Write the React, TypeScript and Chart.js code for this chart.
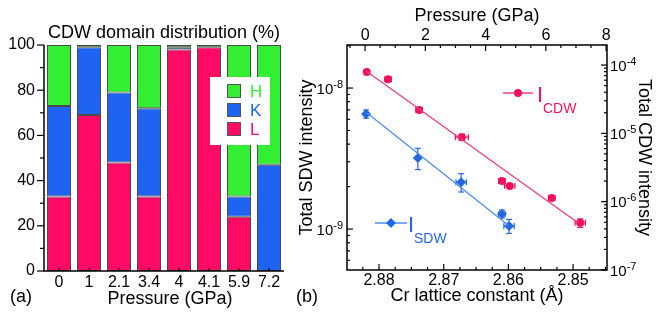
import React, { useEffect, useRef } from 'react';
import { Chart, registerables } from 'chart.js';
Chart.register(...registerables);

const FONT = "'Liberation Sans', Arial, Helvetica, sans-serif";

// ---------- panel (a): CDW domain distribution ----------
const PRESSURE_LABELS = ['0', '1', '2.1', '3.4', '4', '4.1', '5.9', '7.2'];
const L_DOMAIN = [33, 69, 48, 33, 98, 99, 24, 0];
const K_DOMAIN = [40, 30, 31, 39, 1, 0, 9, 47];
const H_DOMAIN = [27, 1, 21, 28, 1, 1, 67, 53];
const PCT_TICKS = [0, 20, 40, 60, 80, 100];

// ---------- panel (b): intensities vs lattice constant ----------
const CDW_LATTICE = [2.8819, 2.8786, 2.8738, 2.8672, 2.8610, 2.8598, 2.8533, 2.8489];
const CDW_INT = [7.9e-5, 6.2e-5, 2.2e-5, 8.8e-6, 2.0e-6, 1.7e-6, 1.13e-6, 4.9e-7];
const CDW_XERR = [0, 0.0005, 0.0005, 0.001, 0.0005, 0.0008, 0.0005, 0.0008];
const CDW_YERR = [0, 0, 0, 0.9e-6, 0, 0, 0, 0.7e-7];

const SDW_LATTICE = [2.8820, 2.8740, 2.8673, 2.8610, 2.8599];
const SDW_INT = [6.55e-9, 3.19e-9, 2.15e-9, 1.28e-9, 1.05e-9];
const SDW_XERR = [0, 0, 0.0008, 0.0005, 0.0008];
const SDW_YERR = [0.44e-9, 0.55e-9, 0.32e-9, 0.085e-9, 0.12e-9];

const CDW_FIT_X = [2.8820, 2.8492];
const CDW_FIT_Y = [8.17e-5, 4.88e-7];
const SDW_FIT_X = [2.88185, 2.86006];
const SDW_FIT_Y = [6.65e-9, 1.067e-9];

const LATTICE_TICKS = [2.88, 2.87, 2.86, 2.85];
const PRESSURE_TICKS = [0, 2, 4, 6, 8];
const SDW_TICKS = [1e-9, 1e-8];
const CDW_TICKS = [1e-7, 1e-6, 1e-5, 1e-4];

const PINK_BAR = '#FF0A64';
const BLUE_BAR = '#1F63F2';
const GREEN_BAR = '#33EE33';
const PINK = '#F0105E';
const PINK_LINE = '#F03C78';
const BLUE = '#2468E0';
const BLUE_LINE = '#4A8EF0';

const expOf = (v: number) => String(Math.round(Math.log10(v)));

function seg(ctx: CanvasRenderingContext2D, x1: number, y1: number, x2: number, y2: number) {
  ctx.beginPath();
  ctx.moveTo(x1, y1);
  ctx.lineTo(x2, y2);
  ctx.stroke();
}

const leftDeco = {
  id: 'leftDeco',
  afterDatasetsDraw(chart: any) {
    const { ctx, chartArea: a, scales } = chart;
    const x = scales.x;
    const y = scales.y;
    ctx.save();
    ctx.strokeStyle = '#000';
    ctx.lineWidth = 1.5;
    ctx.beginPath();
    ctx.moveTo(a.left, a.top);
    ctx.lineTo(a.left, a.bottom);
    ctx.lineTo(a.right, a.bottom);
    ctx.stroke();
    ctx.lineWidth = 1.2;
    for (let v = 0; v <= 100; v += 10) {
      const py = y.getPixelForValue(v);
      seg(ctx, a.left - (v % 20 === 0 ? 7 : 4), py, a.left, py);
    }
    PRESSURE_LABELS.forEach((_, i) => {
      const px = x.getPixelForValue(i);
      seg(ctx, px, a.bottom, px, a.bottom - 3);
    });
    // legend
    ctx.fillStyle = '#fff';
    ctx.fillRect(210, 77, 60, 68);
    const items = [
      { t: 'H', c: GREEN_BAR },
      { t: 'K', c: BLUE_BAR },
      { t: 'L', c: PINK_BAR },
    ];
    ctx.font = `17px ${FONT}`;
    ctx.textBaseline = 'middle';
    ctx.textAlign = 'left';
    items.forEach((it, i) => {
      const top = 84 + i * 19;
      ctx.fillStyle = it.c;
      ctx.fillRect(227, top, 14, 14);
      ctx.strokeStyle = '#555';
      ctx.lineWidth = 1;
      ctx.strokeRect(227.5, top + 0.5, 13, 13);
      ctx.fillStyle = it.c;
      ctx.fillText(it.t, 250, top + 8);
    });
    // texts
    ctx.fillStyle = '#000';
    ctx.font = `18px ${FONT}`;
    ctx.textAlign = 'center';
    ctx.fillText('CDW domain distribution (%)', (a.left + a.right) / 2, 33);
    ctx.fillText('Pressure (GPa)', 170, 299);
    ctx.textAlign = 'left';
    ctx.fillText('(a)', 10, 297);
    ctx.restore();
  },
};

function drawPowLabel(ctx: CanvasRenderingContext2D, v: number, xEdge: number, py: number, alignRight: boolean) {
  const e = '-' + expOf(v).replace('-', '');
  ctx.font = `15px ${FONT}`;
  const wBase = ctx.measureText('10').width;
  ctx.font = `11px ${FONT}`;
  const wExp = ctx.measureText(e).width;
  const x0 = alignRight ? xEdge - wBase - wExp : xEdge;
  ctx.textAlign = 'left';
  ctx.textBaseline = 'alphabetic';
  ctx.font = `15px ${FONT}`;
  ctx.fillText('10', x0, py + 5.5);
  ctx.font = `11px ${FONT}`;
  ctx.fillText(e, x0 + wBase, py - 0.5);
}

const rightDeco = {
  id: 'rightDeco',
  beforeDatasetsDraw(chart: any) {
    const { ctx, scales } = chart;
    const x = scales.x;
    const draw = (lat: number[], val: number[], xe: number[], ye: number[], ys: any, color: string) => {
      ctx.save();
      ctx.strokeStyle = color;
      ctx.lineWidth = 1.2;
      lat.forEach((lx, i) => {
        const px = x.getPixelForValue(lx);
        const py = ys.getPixelForValue(val[i]);
        if (ye[i] > 0) {
          const p1 = ys.getPixelForValue(val[i] - ye[i]);
          const p2 = ys.getPixelForValue(val[i] + ye[i]);
          seg(ctx, px, p1, px, p2);
          seg(ctx, px - 3, p1, px + 3, p1);
          seg(ctx, px - 3, p2, px + 3, p2);
        }
        if (xe[i] > 0) {
          const q1 = x.getPixelForValue(lx - xe[i]);
          const q2 = x.getPixelForValue(lx + xe[i]);
          seg(ctx, q1, py, q2, py);
          seg(ctx, q1, py - 3, q1, py + 3);
          seg(ctx, q2, py - 3, q2, py + 3);
        }
      });
      ctx.restore();
    };
    draw(CDW_LATTICE, CDW_INT, CDW_XERR, CDW_YERR, scales.yr, PINK);
    draw(SDW_LATTICE, SDW_INT, SDW_XERR, SDW_YERR, scales.y, BLUE);
  },
  afterDatasetsDraw(chart: any) {
    const { ctx, chartArea: a, scales } = chart;
    const { x, xp, y, yr } = scales;
    ctx.save();
    ctx.strokeStyle = '#000';
    ctx.lineWidth = 1.5;
    ctx.strokeRect(a.left, a.top, a.right - a.left, a.bottom - a.top);
    ctx.lineWidth = 1.2;
    // bottom lattice ticks
    for (let i = 0; i <= 16; i++) {
      const v = 2.845 + i * 0.0025;
      if (v < x.min || v > x.max) continue;
      const px = x.getPixelForValue(v);
      const major = Math.abs(v * 100 - Math.round(v * 100)) < 1e-6;
      seg(ctx, px, a.bottom, px, a.bottom - (major ? 6 : 3));
    }
    // top pressure ticks
    for (let i = -1; i <= 16; i++) {
      const v = i * 0.5;
      if (v < xp.min || v > xp.max) continue;
      const px = xp.getPixelForValue(v);
      seg(ctx, px, a.top, px, a.top + (i % 4 === 0 ? 6 : 3));
    }
    // log ticks
    const logTicks = (sc: any, d0: number, d1: number, edge: number, dir: number) => {
      for (let d = d0; d <= d1; d++) {
        for (let m = 1; m <= 9; m++) {
          const v = m * Math.pow(10, d);
          if (v < sc.min * 0.999 || v > sc.max * 1.001) continue;
          const py = sc.getPixelForValue(v);
          seg(ctx, edge, py, edge + dir * (m === 1 ? 6 : 3), py);
        }
      }
    };
    logTicks(y, -10, -8, a.left, 1);
    logTicks(yr, -7, -4, a.right, -1);
    // log tick labels (10 with superscript exponent)
    ctx.fillStyle = '#000';
    SDW_TICKS.forEach((v) => drawPowLabel(ctx, v, a.left - 4, y.getPixelForValue(v), true));
    CDW_TICKS.forEach((v) => drawPowLabel(ctx, v, a.right + 3, yr.getPixelForValue(v), false));
    // legend
    const leg = (x1: number, x2: number, yy: number, color: string, lineColor: string, style: string, r: number, tx: number, sub: string) => {
      ctx.strokeStyle = lineColor;
      ctx.lineWidth = 1.5;
      seg(ctx, x1, yy, x2, yy);
      ctx.fillStyle = color;
      const cx = (x1 + x2) / 2;
      ctx.beginPath();
      if (style === 'circle') {
        ctx.arc(cx, yy, r, 0, Math.PI * 2);
      } else {
        ctx.moveTo(cx, yy - r);
        ctx.lineTo(cx + r, yy);
        ctx.lineTo(cx, yy + r);
        ctx.lineTo(cx - r, yy);
        ctx.closePath();
      }
      ctx.fill();
      ctx.textAlign = 'left';
      ctx.textBaseline = 'alphabetic';
      ctx.font = `22px ${FONT}`;
      ctx.fillText('I', tx, yy + 9);
      ctx.font = `14px ${FONT}`;
      ctx.fillText(sub, tx + 6, yy + 20);
    };
    leg(213, 243, 93, PINK, PINK_LINE, 'circle', 4, 247, 'CDW');
    leg(85, 117, 223, BLUE, BLUE_LINE, 'diamond', 5, 118, 'SDW');
    ctx.fillStyle = '#000';
    ctx.font = `18px ${FONT}`;
    ctx.textAlign = 'left';
    ctx.textBaseline = 'middle';
    ctx.fillText('(b)', 6, 297);
    ctx.restore();
  },
};

const noGrid = { display: false, drawTicks: false };

function leftConfig(): any {
  return {
    type: 'bar',
    data: {
      labels: PRESSURE_LABELS,
      datasets: [
        { label: 'L', data: L_DOMAIN, backgroundColor: PINK_BAR },
        { label: 'K', data: K_DOMAIN, backgroundColor: BLUE_BAR },
        { label: 'H', data: H_DOMAIN, backgroundColor: GREEN_BAR },
      ],
    },
    options: {
      animation: false,
      responsive: false,
      devicePixelRatio: 1,
      layout: { padding: { top: 45, right: 16, left: 0, bottom: 0 } },
      plugins: { legend: { display: false }, title: { display: false }, tooltip: { enabled: false } },
      datasets: {
        bar: {
          barPercentage: 0.8,
          categoryPercentage: 1,
          borderWidth: 1,
          borderColor: '#4a4a4a',
          borderSkipped: false,
        },
      },
      scales: {
        x: {
          stacked: true,
          grid: noGrid,
          border: { display: false },
          ticks: { font: { size: 16, family: FONT }, color: '#000', padding: 2, maxRotation: 0, autoSkip: false },
          afterFit: (s: any) => { s.height = 47; },
        },
        y: {
          stacked: true,
          min: 0,
          max: 100,
          grid: noGrid,
          border: { display: false },
          ticks: { font: { size: 16, family: FONT }, color: '#000', padding: 9 },
          afterBuildTicks: (s: any) => { s.ticks = PCT_TICKS.map((v) => ({ value: v })); },
          afterFit: (s: any) => { s.width = 44; },
        },
      },
    },
    plugins: [leftDeco],
  };
}

function rightConfig(): any {
  const pts = (xs: number[], ys: number[]) => xs.map((v, i) => ({ x: v, y: ys[i] }));
  const titleFont = { size: 18, family: FONT };
  const tickFont = { size: 16, family: FONT };
  return {
    type: 'scatter',
    data: {
      datasets: [
        {
          label: 'CDW fit', data: pts(CDW_FIT_X, CDW_FIT_Y), xAxisID: 'x', yAxisID: 'yr',
          showLine: true, pointRadius: 0, borderColor: PINK_LINE, borderWidth: 1.3,
        },
        {
          label: 'SDW fit', data: pts(SDW_FIT_X, SDW_FIT_Y), xAxisID: 'x', yAxisID: 'y',
          showLine: true, pointRadius: 0, borderColor: BLUE_LINE, borderWidth: 1.3,
        },
        {
          label: 'I_CDW', data: pts(CDW_LATTICE, CDW_INT), xAxisID: 'x', yAxisID: 'yr',
          pointStyle: 'circle', pointRadius: 4, backgroundColor: PINK, borderColor: PINK, borderWidth: 0,
        },
        {
          label: 'I_SDW', data: pts(SDW_LATTICE, SDW_INT), xAxisID: 'x', yAxisID: 'y',
          pointStyle: 'rectRot', pointRadius: 5, backgroundColor: BLUE, borderColor: BLUE, borderWidth: 0,
        },
      ],
    },
    options: {
      animation: false,
      responsive: false,
      devicePixelRatio: 1,
      layout: { padding: 0 },
      plugins: { legend: { display: false }, title: { display: false }, tooltip: { enabled: false } },
      scales: {
        x: {
          type: 'linear', position: 'bottom', reverse: true, min: 2.84476, max: 2.88495,
          grid: noGrid, border: { display: false },
          ticks: { font: tickFont, color: '#000', padding: 1, callback: (v: number) => v.toFixed(2) },
          afterBuildTicks: (s: any) => { s.ticks = LATTICE_TICKS.map((v) => ({ value: v })); },
          title: { display: true, text: 'Cr lattice constant (Å)', font: titleFont, color: '#000', padding: { top: 0, bottom: 11 } },
          afterFit: (s: any) => { s.height = 48; },
        },
        xp: {
          type: 'linear', position: 'top', min: -0.6, max: 8.03,
          grid: noGrid, border: { display: false },
          ticks: { font: tickFont, color: '#000', padding: 0 },
          afterBuildTicks: (s: any) => { s.ticks = PRESSURE_TICKS.map((v) => ({ value: v })); },
          title: { display: true, text: 'Pressure (GPa)', font: titleFont, color: '#000', padding: { top: 5, bottom: 0 } },
          afterFit: (s: any) => { s.height = 45; },
        },
        y: {
          type: 'logarithmic', position: 'left', min: 5.12e-10, max: 2.02e-8,
          grid: noGrid, border: { display: false },
          ticks: { display: false },
          afterBuildTicks: (s: any) => { s.ticks = SDW_TICKS.map((v) => ({ value: v })); },
          title: { display: true, text: 'Total SDW intensity', font: titleFont, color: '#000', padding: { top: 6, bottom: 0 } },
          afterFit: (s: any) => { s.width = 57; },
        },
        yr: {
          type: 'logarithmic', position: 'right', min: 1e-7, max: 1.963e-4,
          grid: noGrid, border: { display: false },
          ticks: { display: false },
          afterBuildTicks: (s: any) => { s.ticks = CDW_TICKS.map((v) => ({ value: v })); },
          title: { display: true, text: 'Total CDW intensity', font: titleFont, color: '#000', padding: { top: 3, bottom: 0 } },
          afterFit: (s: any) => { s.width = 51; },
        },
      },
    },
    plugins: [rightDeco],
  };
}

export default function App() {
  const leftRef = useRef<HTMLCanvasElement>(null);
  const rightRef = useRef<HTMLCanvasElement>(null);
  useEffect(() => {
    document.body.style.margin = '0';
    Chart.defaults.font.family = FONT;
    Chart.defaults.color = '#000';
    const c1 = new Chart(leftRef.current as HTMLCanvasElement, leftConfig());
    const c2 = new Chart(rightRef.current as HTMLCanvasElement, rightConfig());
    return () => {
      c1.destroy();
      c2.destroy();
    };
  }, []);
  return (
    <div style={{ position: 'relative', width: 658, height: 318, background: '#fff' }}>
      <canvas ref={leftRef} width={300} height={318} style={{ position: 'absolute', left: 0, top: 0, width: 300, height: 318 }} />
      <canvas ref={rightRef} width={368} height={318} style={{ position: 'absolute', left: 290, top: 0, width: 368, height: 318 }} />
    </div>
  );
}
